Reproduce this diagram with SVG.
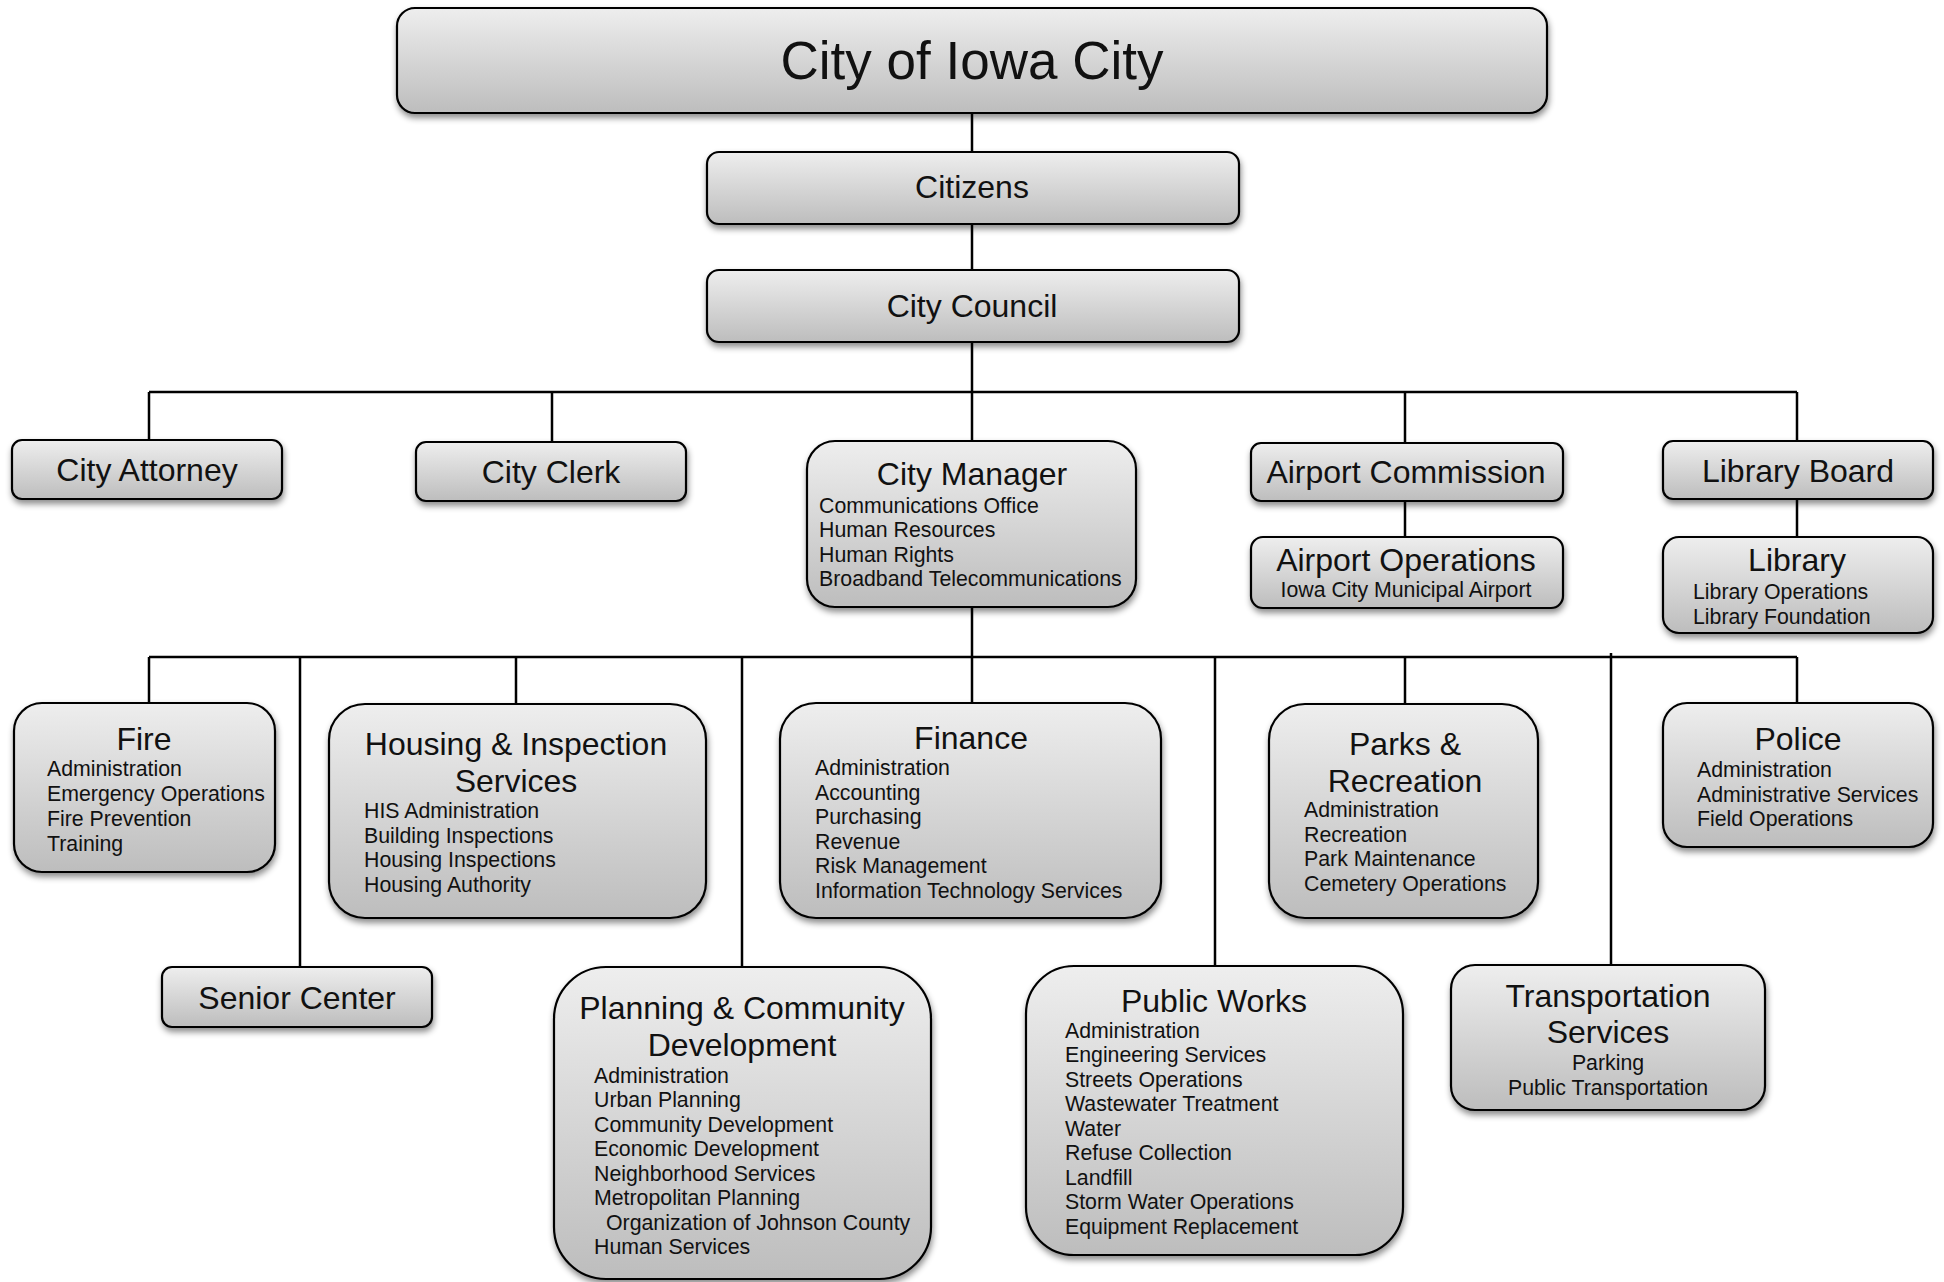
<svg xmlns="http://www.w3.org/2000/svg" width="1944" height="1282" viewBox="0 0 1944 1282">
<defs>
<linearGradient id="g" x1="0" y1="0" x2="0" y2="1">
<stop offset="0" stop-color="#eeeeee"/>
<stop offset="1" stop-color="#bdbdbd"/>
</linearGradient>
<filter id="sh" x="-10%" y="-10%" width="120%" height="130%">
<feDropShadow dx="1" dy="4" stdDeviation="3" flood-color="#000" flood-opacity="0.45"/>
</filter>
<style>
.box{fill:url(#g);stroke:#000;stroke-width:2.2;filter:url(#sh)}
.c{fill:none;stroke:#000;stroke-width:2.5}
text{font-family:"Liberation Sans",Arial,sans-serif;fill:#111}
.t{font-size:32px;text-anchor:middle}
.big{font-size:53px;text-anchor:middle}
.s{font-size:21.3px}
.sm{font-size:21.3px;text-anchor:middle}
</style>
</defs>
<g id="connectors">
<path class="c" d="M972 113V152M972 224V270M972 342V441M149 392H1797M149 392V440M552 392V442M1405 392V443M1797 392V441M1405 501V537M1797 499V537"/>
<path class="c" d="M972 608V703M149 657H1797M149 657V703M300 657V967M516 657V704M742 657V967M1215 657V966M1405 657V704M1611 653V965M1797 657V703"/>
</g>
<g id="city"><rect class="box" x="397" y="8" width="1150" height="105" rx="18"/><text class="big" x="972" y="79">City of Iowa City</text></g>
<g id="citizens"><rect class="box" x="707" y="152" width="532" height="72" rx="12"/><text class="t" x="972" y="198">Citizens</text></g>
<g id="council"><rect class="box" x="707" y="270" width="532" height="72" rx="12"/><text class="t" x="972" y="317">City Council</text></g>
<g id="attorney"><rect class="box" x="12" y="440" width="270" height="59" rx="10"/><text class="t" x="147" y="481">City Attorney</text></g>
<g id="clerk"><rect class="box" x="416" y="442" width="270" height="59" rx="10"/><text class="t" x="551" y="483">City Clerk</text></g>
<g id="manager"><rect class="box" x="807" y="441" width="329" height="166" rx="28"/><text class="t" x="972" y="485">City Manager</text>
<text class="s"><tspan x="819" y="513">Communications Office</tspan><tspan x="819" y="537">Human Resources</tspan><tspan x="819" y="562">Human Rights</tspan><tspan x="819" y="586">Broadband Telecommunications</tspan></text></g>
<g id="airportcomm"><rect class="box" x="1251" y="443" width="312" height="58" rx="10"/><text class="t" x="1406" y="483">Airport Commission</text></g>
<g id="airportops"><rect class="box" x="1251" y="537" width="312" height="71" rx="12"/><text class="t" x="1406" y="571">Airport Operations</text><text class="sm" x="1406" y="597">Iowa City Municipal Airport</text></g>
<g id="libboard"><rect class="box" x="1663" y="441" width="270" height="58" rx="10"/><text class="t" x="1798" y="482">Library Board</text></g>
<g id="library"><rect class="box" x="1663" y="537" width="270" height="96" rx="16"/><text class="t" x="1797" y="571">Library</text>
<text class="s"><tspan x="1693" y="599">Library Operations</tspan><tspan x="1693" y="624">Library Foundation</tspan></text></g>
<g id="fire"><rect class="box" x="14" y="703" width="261" height="169" rx="28"/><text class="t" x="144" y="750">Fire</text>
<text class="s"><tspan x="47" y="776">Administration</tspan><tspan x="47" y="801">Emergency Operations</tspan><tspan x="47" y="826">Fire Prevention</tspan><tspan x="47" y="851">Training</tspan></text></g>
<g id="housing"><rect class="box" x="329" y="704" width="377" height="214" rx="36"/><text class="t"><tspan x="516" y="755">Housing &amp; Inspection</tspan><tspan x="516" y="792">Services</tspan></text>
<text class="s"><tspan x="364" y="818">HIS Administration</tspan><tspan x="364" y="843">Building Inspections</tspan><tspan x="364" y="867">Housing Inspections</tspan><tspan x="364" y="892">Housing Authority</tspan></text></g>
<g id="finance"><rect class="box" x="780" y="703" width="381" height="215" rx="36"/><text class="t" x="971" y="749">Finance</text>
<text class="s"><tspan x="815" y="775">Administration</tspan><tspan x="815" y="799.5">Accounting</tspan><tspan x="815" y="824">Purchasing</tspan><tspan x="815" y="848.5">Revenue</tspan><tspan x="815" y="873">Risk Management</tspan><tspan x="815" y="897.5">Information Technology Services</tspan></text></g>
<g id="parks"><rect class="box" x="1269" y="704" width="269" height="214" rx="36"/><text class="t"><tspan x="1405" y="755">Parks &amp;</tspan><tspan x="1405" y="792">Recreation</tspan></text>
<text class="s"><tspan x="1304" y="817">Administration</tspan><tspan x="1304" y="842">Recreation</tspan><tspan x="1304" y="866">Park Maintenance</tspan><tspan x="1304" y="891">Cemetery Operations</tspan></text></g>
<g id="police"><rect class="box" x="1663" y="703" width="270" height="144" rx="24"/><text class="t" x="1798" y="750">Police</text>
<text class="s"><tspan x="1697" y="777">Administration</tspan><tspan x="1697" y="801.5">Administrative Services</tspan><tspan x="1697" y="826">Field Operations</tspan></text></g>
<g id="senior"><rect class="box" x="162" y="967" width="270" height="60" rx="10"/><text class="t" x="297" y="1009">Senior Center</text></g>
<g id="planning"><rect class="box" x="554" y="967" width="377" height="312" rx="52"/><text class="t"><tspan x="742" y="1019">Planning &amp; Community</tspan><tspan x="742" y="1056">Development</tspan></text>
<text class="s"><tspan x="594" y="1082.5">Administration</tspan><tspan x="594" y="1107">Urban Planning</tspan><tspan x="594" y="1131.5">Community Development</tspan><tspan x="594" y="1156">Economic Development</tspan><tspan x="594" y="1180.5">Neighborhood Services</tspan><tspan x="594" y="1205">Metropolitan Planning</tspan><tspan x="606" y="1229.5">Organization of Johnson County</tspan><tspan x="594" y="1254">Human Services</tspan></text></g>
<g id="publicworks"><rect class="box" x="1026" y="966" width="377" height="289" rx="48"/><text class="t" x="1214" y="1012">Public Works</text>
<text class="s"><tspan x="1065" y="1037.5">Administration</tspan><tspan x="1065" y="1062">Engineering Services</tspan><tspan x="1065" y="1086.5">Streets Operations</tspan><tspan x="1065" y="1111">Wastewater Treatment</tspan><tspan x="1065" y="1135.5">Water</tspan><tspan x="1065" y="1160">Refuse Collection</tspan><tspan x="1065" y="1184.5">Landfill</tspan><tspan x="1065" y="1209">Storm Water Operations</tspan><tspan x="1065" y="1233.5">Equipment Replacement</tspan></text></g>
<g id="transportation"><rect class="box" x="1451" y="965" width="314" height="145" rx="24"/><text class="t"><tspan x="1608" y="1007">Transportation</tspan><tspan x="1608" y="1043">Services</tspan></text>
<text class="sm"><tspan x="1608" y="1070">Parking</tspan><tspan x="1608" y="1095">Public Transportation</tspan></text></g>
</svg>
